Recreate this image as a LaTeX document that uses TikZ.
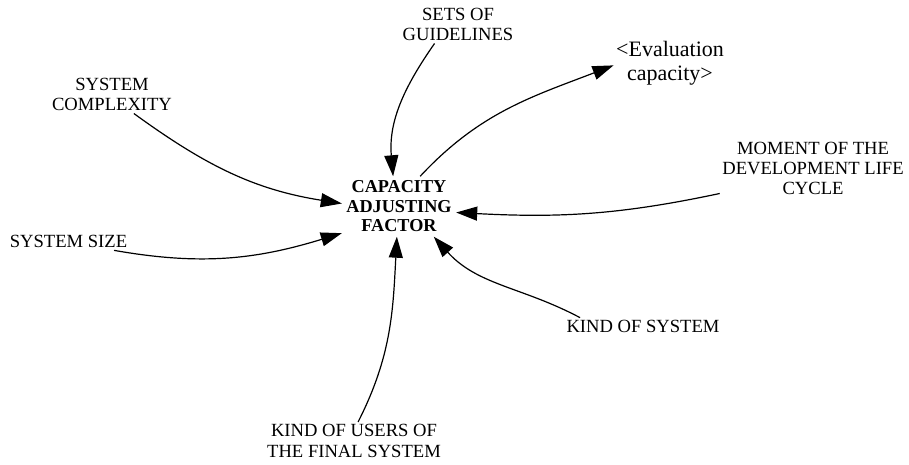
\documentclass[tikz,border=0pt]{standalone}
\usepackage{fontspec}
\setmainfont{Liberation Serif}
\usetikzlibrary{arrows.meta, positioning}

\begin{document}
\begin{tikzpicture}[x=1pt, y=1pt,
  -{Triangle[length=21pt, width=14pt]}, line width=1.2pt,
  var/.style = {align=center, inner sep=2pt, font=\fontsize{18.6}{20.3}\selectfont},
  shadowvar/.style = {align=center, inner sep=2pt, font=\fontsize{22}{24.3}\selectfont},
  aux/.style = {align=center, inner xsep=4pt, inner ysep=4pt,
    font=\bfseries\fontsize{18.2}{19.5}\selectfont}]
\useasboundingbox (0,0) rectangle (909,464);

\node[aux] (caf) at (399,257.5) {CAPACITY\\ADJUSTING\\FACTOR};

\node[var] (sg) at (458,439.5) {SETS OF\\GUIDELINES};
\node[var] (sc) at (112,369.5) {SYSTEM\\COMPLEXITY};
\node[var] (ss) at (68.5,222.5) {SYSTEM SIZE};
\node[var] (ku) at (354,23) {KIND OF USERS OF\\THE FINAL SYSTEM};
\node[var] (ks) at (643,137.5) {KIND OF SYSTEM};
\node[var] (mo) at (813,295.5) {MOMENT OF THE\\DEVELOPMENT LIFE\\CYCLE};
\node[shadowvar] (ev) at (670,400.6) {<Evaluation\\capacity>}; % shadow variable

% causes
\path (sg.219) edge[out=235, in=95] (caf.101);
\path (sc.319) edge[out=324, in=171] (caf.177);
\path (ss.349) edge[out=350, in=197] (caf.205);
\path (ku.78) edge[out=63, in=267] (caf.266);
\path (ks.172) edge[out=152, in=312] (caf.319);
\path (mo.195) edge[out=192, in=357] (caf.354);

% effect
\path (caf.55) edge[out=47, in=201] (ev.182);
\end{tikzpicture}
\end{document}
